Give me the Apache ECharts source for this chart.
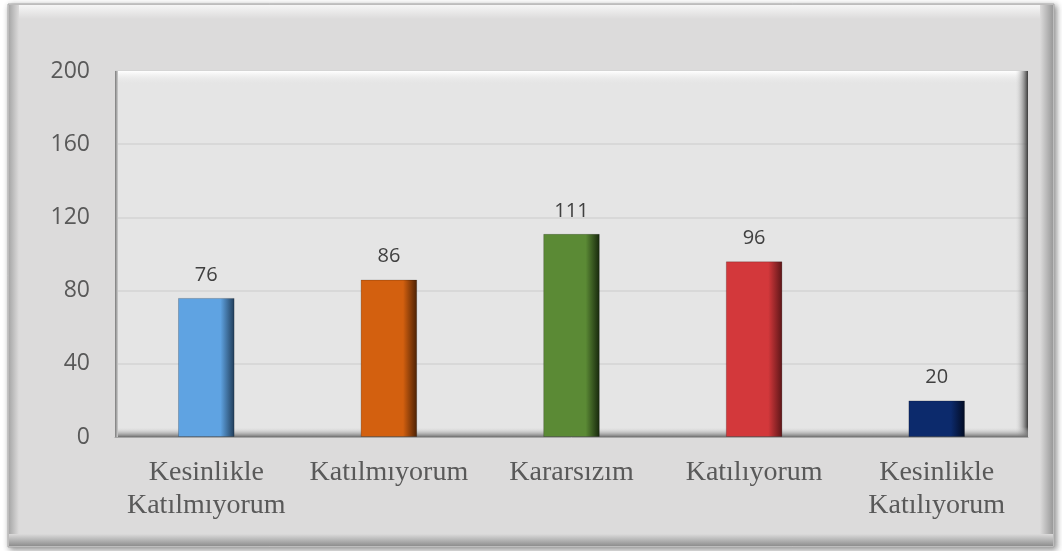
<!DOCTYPE html>
<html>
<head>
<meta charset="utf-8">
<script src="https://cdn.jsdelivr.net/npm/echarts@6/dist/echarts.min.js"></script>
<style>
    html,body{margin:0;padding:0;background:#fff;}
    #chart{width:1062px;height:551px;}
</style>
</head>
<body>
<div id="chart"></div>
<script>
// veriler
const categories = ["Kesinlikle\nKatılmıyorum", "Katılmıyorum", "Kararsızım", "Katılıyorum", "Kesinlikle\nKatılıyorum"];
const values = [76, 86, 111, 96, 20];
const barColors = [
    ["#8cc4f2", "#5fa3e2", "#1f3b57"],
    ["#f08a3e", "#d3600f", "#4a2004"],
    ["#7fa95a", "#5b8a35", "#16260c"],
    ["#ee6a6d", "#d3383b", "#5a1517"],
    ["#2a4e9a", "#0c2a6c", "#020b22"]
];

let myChart = echarts.init(document.getElementById("chart"));

function bevel(c){
    return new echarts.graphic.LinearGradient(0,0,1,0,[
        {offset:0, color:c[1]},
        {offset:0.75, color:c[1]},
        {offset:1, color:c[2]}
    ]);
}

function grad(x2,y2,a,b){
    return new echarts.graphic.LinearGradient(0,0,x2,y2,[
        {offset:0,color:a},{offset:1,color:b}]);
}

// grid kutusu
const gl=115, gr=1028, gt=71, gb=437;

myChart.setOption({
    backgroundColor:"#ffffff",
    animation:false,
    graphic:[
        {type:"rect",z:-10,shape:{x:8,y:4,width:1046,height:543},
            style:{fill:"#dcdbdb",stroke:"#a9a9a9",lineWidth:1,
                shadowColor:"rgba(0,0,0,0.45)",shadowBlur:6,shadowOffsetX:2,shadowOffsetY:2}},
        {type:"rect",z:-9,shape:{x:9,y:5,width:1044,height:14},style:{fill:grad(0,1,"#f6f6f6","#dcdbdb")}},
        {type:"rect",z:-9,shape:{x:9,y:5,width:10,height:541},style:{fill:grad(1,0,"#a8a8a8","#dcdbdb")}},
        {type:"rect",z:-9,shape:{x:1040,y:5,width:13,height:541},style:{fill:grad(1,0,"#dcdbdb","#999999")}},
        {type:"rect",z:-9,shape:{x:9,y:534,width:1044,height:12},style:{fill:grad(0,1,"#dcdbdb","#8e8e8e")}},
        // plot bevel
        {type:"rect",z:1,silent:true,shape:{x:gl,y:gt,width:gr-gl,height:14},style:{fill:grad(0,1,"#ffffff","rgba(229,229,229,0)")}},
        {type:"rect",z:1,silent:true,shape:{x:gr-13,y:gt,width:13,height:gb-gt},style:{fill:grad(1,0,"rgba(229,229,229,0)","#3a3a3a")}},
        {type:"rect",z:1,silent:true,shape:{x:gl,y:gb-10,width:gr-gl,height:10},style:{fill:grad(0,1,"rgba(229,229,229,0)","#6e6e6e")}},
        {type:"rect",z:1,silent:true,shape:{x:gl,y:gt,width:3,height:gb-gt},style:{fill:grad(1,0,"#7a7a7a","#cfcfcf")}}
    ],
    grid:{
        left:gl,
        right:1062-gr,
        top:gt,
        bottom:551-gb,
        show:true,
        backgroundColor:"#e5e5e5",
        borderWidth:0
    },
    xAxis:{
        type:"category",
        data:categories,
        axisTick:{show:false},
        axisLine:{show:true,lineStyle:{color:"#a6a6a6",width:1}},
        axisLabel:{
            color:"#595959",
            fontFamily:"Liberation Serif",
            fontSize:28,
            lineHeight:33,
            margin:19,
            interval:0
        }
    },
    yAxis:{
        type:"value",
        min:0,
        max:200,
        interval:40,
        axisLine:{show:false},
        axisTick:{show:false},
        splitLine:{lineStyle:{color:"#d3d3d3",width:1.5}},
        axisLabel:{
            color:"#595959",
            fontFamily:"Open Sans",
            fontSize:23,
            margin:25
        }
    },
    series:[
        {
            type:"bar",
            barWidth:"31%",
            z:3,
            data:values.map((v,i)=>({
                value:v,
                itemStyle:{color:bevel(barColors[i]),borderColor:"rgba(0,0,0,0.2)",borderWidth:1}
            })),
            label:{
                show:true,
                position:"top",
                distance:13,
                color:"#404040",
                fontFamily:"Open Sans",
                fontSize:20
            }
        }
    ]
});
</script>
</body>
</html>
